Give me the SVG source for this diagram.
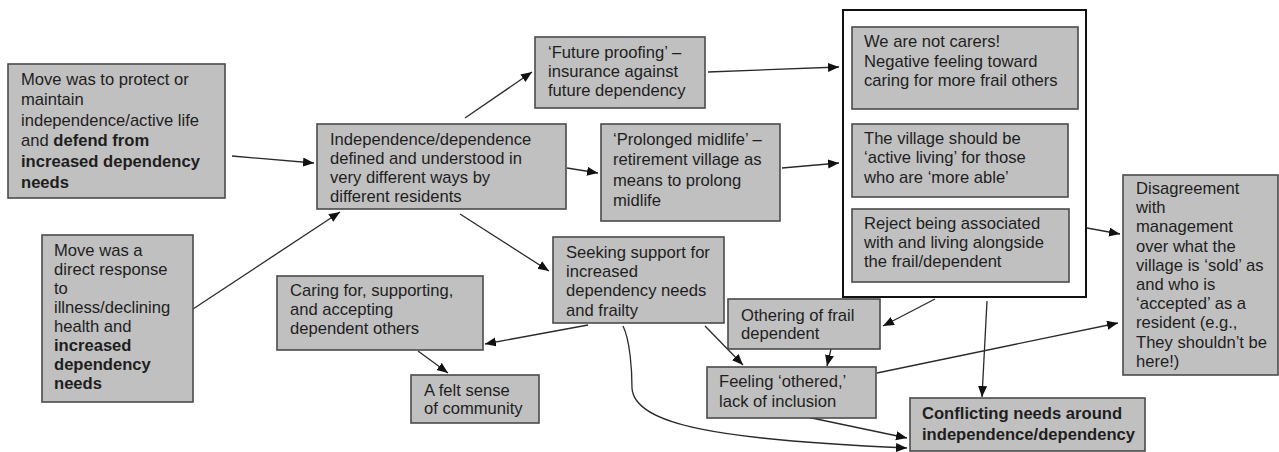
<svg xmlns="http://www.w3.org/2000/svg" width="1279" height="452" viewBox="0 0 1279 452">
<style>
.box{fill:#c0c0c0;stroke:#4a4a4a;stroke-width:1.6}
.frame{fill:#ffffff;stroke:#111;stroke-width:2}
text{font-family:"Liberation Sans",Arial,sans-serif;font-size:16.6px;fill:#1e1e1e}
.b{font-weight:bold}
.c{fill:none;stroke:#2a2a2a;stroke-width:1.3;marker-end:url(#ah)}
</style>
<defs>
<marker id="ah" markerUnits="userSpaceOnUse" markerWidth="12" markerHeight="10" refX="11" refY="4.5" orient="auto">
<path d="M0,0 L11,4.5 L0,9 z" fill="#111"/>
</marker>
</defs>
<rect width="1279" height="452" fill="#ffffff"/>

<g id="connectors">
<line class="c" x1="232" y1="156" x2="314" y2="163"/>
<line class="c" x1="193" y1="309" x2="340" y2="212"/>
<line class="c" x1="465" y1="118" x2="532" y2="72"/>
<line class="c" x1="567" y1="168" x2="598" y2="173"/>
<line class="c" x1="460" y1="214" x2="549" y2="271"/>
<line class="c" x1="708" y1="72" x2="839" y2="67"/>
<line class="c" x1="782" y1="168" x2="839" y2="163"/>
<line class="c" x1="1087" y1="228" x2="1120" y2="234"/>
<line class="c" x1="935" y1="299" x2="883" y2="326"/>
<line class="c" x1="987" y1="301" x2="982" y2="397"/>
<line class="c" x1="588" y1="325" x2="485" y2="344"/>
<line class="c" x1="418" y1="351" x2="448" y2="373"/>
<line class="c" x1="705" y1="326" x2="743" y2="365"/>
<line class="c" x1="831" y1="349" x2="827" y2="366"/>
<line class="c" x1="877" y1="373" x2="1118" y2="323"/>
<line class="c" x1="807" y1="417" x2="907" y2="438"/>
<path class="c" d="M623,326 C630,340 632,370 632,388 C634,425 720,440 907,448"/>
</g>

<g id="n-move-protect">
<rect class="box" x="8" y="64" width="217" height="134"/>
<text x="21" y="85">Move was to protect or</text>
<text x="21" y="105">maintain</text>
<text x="21" y="126">independence/active life</text>
<text x="21" y="146">and <tspan class="b">defend from</tspan></text>
<text x="21" y="167" class="b">increased dependency</text>
<text x="21" y="188" class="b">needs</text>
</g>

<g id="n-move-response">
<rect class="box" x="42" y="235" width="151" height="167"/>
<text x="54" y="256">Move was a</text>
<text x="54" y="275">direct response</text>
<text x="54" y="294">to</text>
<text x="54" y="313">illness/declining</text>
<text x="54" y="332">health and</text>
<text x="54" y="351" class="b">increased</text>
<text x="54" y="370" class="b">dependency</text>
<text x="54" y="389" class="b">needs</text>
</g>

<g id="n-independence">
<rect class="box" x="317" y="124" width="249" height="85"/>
<text x="330" y="145">Independence/dependence</text>
<text x="330" y="164">defined and understood in</text>
<text x="330" y="183">very different ways by</text>
<text x="330" y="202">different residents</text>
</g>

<g id="n-future">
<rect class="box" x="535" y="37" width="170" height="71"/>
<text x="548" y="58">‘Future proofing’ –</text>
<text x="548" y="77">insurance against</text>
<text x="548" y="96">future dependency</text>
</g>

<g id="n-midlife">
<rect class="box" x="601" y="124" width="179" height="97"/>
<text x="613" y="145">‘Prolonged midlife’ –</text>
<text x="613" y="165">retirement village as</text>
<text x="613" y="186">means to prolong</text>
<text x="613" y="206">midlife</text>
</g>

<g id="n-group">
<rect class="frame" x="843" y="10" width="243" height="287"/>
<g id="n-not-carers">
<rect class="box" x="852" y="27" width="226" height="82"/>
<text x="864" y="47">We are not carers!</text>
<text x="864" y="67">Negative feeling toward</text>
<text x="864" y="86">caring for more frail others</text>
</g>
<g id="n-active-living">
<rect class="box" x="852" y="124" width="216" height="73"/>
<text x="864" y="144">The village should be</text>
<text x="864" y="163">‘active living’ for those</text>
<text x="864" y="183">who are ‘more able’</text>
</g>
<g id="n-reject">
<rect class="box" x="852" y="209" width="217" height="73"/>
<text x="864" y="229">Reject being associated</text>
<text x="864" y="248">with and living alongside</text>
<text x="864" y="267">the frail/dependent</text>
</g>
</g>

<g id="n-disagreement">
<rect class="box" x="1123" y="175" width="155" height="200"/>
<text x="1136" y="194">Disagreement</text>
<text x="1136" y="213">with</text>
<text x="1136" y="232">management</text>
<text x="1136" y="252">over what the</text>
<text x="1136" y="271">village is ‘sold’ as</text>
<text x="1136" y="290">and who is</text>
<text x="1136" y="309">‘accepted’ as a</text>
<text x="1136" y="328">resident (e.g.,</text>
<text x="1136" y="348">They shouldn’t be</text>
<text x="1136" y="367">here!)</text>
</g>

<g id="n-seeking">
<rect class="box" x="553" y="237" width="171" height="86"/>
<text x="566" y="258">Seeking support for</text>
<text x="566" y="277">increased</text>
<text x="566" y="296">dependency needs</text>
<text x="566" y="316">and frailty</text>
</g>

<g id="n-caring">
<rect class="box" x="277" y="276" width="206" height="74"/>
<text x="290" y="296">Caring for, supporting,</text>
<text x="290" y="315">and accepting</text>
<text x="290" y="334">dependent others</text>
</g>

<g id="n-community">
<rect class="box" x="411" y="375" width="128" height="48"/>
<text x="424" y="396">A felt sense</text>
<text x="424" y="414">of community</text>
</g>

<g id="n-othering">
<rect class="box" x="728" y="299" width="152" height="50"/>
<text x="741" y="321">Othering of frail</text>
<text x="741" y="339">dependent</text>
</g>

<g id="n-feeling">
<rect class="box" x="707" y="367" width="169" height="51"/>
<text x="719" y="387">Feeling ‘othered,’</text>
<text x="719" y="407">lack of inclusion</text>
</g>

<g id="n-conflicting">
<rect class="box" x="910" y="398" width="235" height="53"/>
<text x="922" y="419" class="b">Conflicting needs around</text>
<text x="922" y="440" class="b">independence/dependency</text>
</g>
</svg>
